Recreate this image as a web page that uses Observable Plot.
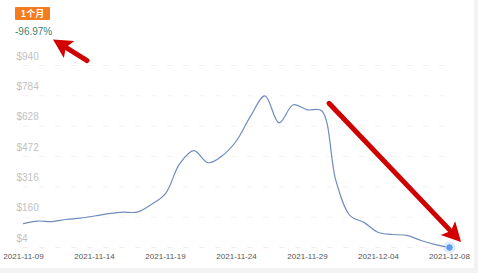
<!DOCTYPE html>
<html>
<head>
<meta charset="utf-8">
<script src="https://cdn.jsdelivr.net/npm/d3@7"></script>
<script src="https://cdn.jsdelivr.net/npm/@observablehq/plot@0.6"></script>
<style>
  html, body { margin: 0; padding: 0; background: #f3f3f3; }
  #wrap { position: relative; width: 474px; height: 268px; background: #ffffff; overflow: hidden; }
  #badge { position: absolute; left: 15px; top: 7px; width: 35px; height: 13px; background: #f47c20;
           color: #fff; font: bold 9px "Noto Sans CJK SC", sans-serif; line-height: 13px; text-align: center; border-radius: 1px; }
  #pct { position: absolute; left: 15px; top: 26px; color: #3f7f6e; font: 10px "Liberation Sans", sans-serif; }
  #chart { position: absolute; left: 0; top: 0; }
</style>
</head>
<body>
<div id="wrap">
  <div id="chart"></div>
  <div id="badge">1个月</div>
  <div id="pct">-96.97%</div>
</div>
<script>
// daily price index (day 0 = 2021-11-09)
const days = d3.range(31);
const prices = [127, 140, 137, 148, 155, 166, 178, 186, 186, 225,
                281, 435, 502, 440, 476, 553, 681, 784, 645, 738,
                712, 707, 348, 168, 132, 81, 71, 66, 40, 19, 3.85];
const tickDays = [0, 5, 10, 15, 20, 25, 30];
const tickLabels = ["2021-11-09", "2021-11-14", "2021-11-19", "2021-11-24", "2021-11-29", "2021-12-04", "2021-12-08"];
const yTicks = [4, 160, 316, 472, 628, 784, 940];
// annotation arrows (data space): tail -> tip
const arrowX1 = [4.51, 21.55];
const arrowY1 = [963, 743];
const arrowX2 = [2.11, 30.85];
const arrowY2 = [1071, 30];

const data = days.map((d, i) => ({day: d, price: prices[i]}));
const last = data[data.length - 1];
const arrows = arrowX1.map((x, i) => ({x1: x, y1: arrowY1[i], x2: arrowX2[i], y2: arrowY2[i]}));

// custom filled-head arrows drawn through the plot's scales
function arrowMark(index, scales) {
  const g = d3.create("svg:g");
  for (const a of arrows) {
    const tx = scales.x(a.x1), ty = scales.y(a.y1);
    const hx = scales.x(a.x2), hy = scales.y(a.y2);
    const dx = hx - tx, dy = hy - ty, L = Math.hypot(dx, dy);
    const ux = dx / L, uy = dy / L, px = -uy, py = ux;
    const hl = 19, hw = 10;
    const bx = hx - ux * hl, by = hy - uy * hl;
    g.append("line").attr("x1", tx).attr("y1", ty).attr("x2", bx + ux * 2).attr("y2", by + uy * 2)
      .attr("stroke", "#cf0000").attr("stroke-width", 5).attr("stroke-linecap", "round");
    g.append("path")
      .attr("d", `M${hx},${hy}L${bx + px * hw},${by + py * hw}L${bx + ux * 4},${by + uy * 4}L${bx - px * hw},${by - py * hw}Z`)
      .attr("fill", "#d40000");
  }
  return g.node();
}

const chart = Plot.plot({
  width: 474,
  height: 268,
  marginLeft: 23,
  marginRight: 25,
  marginTop: 65,
  marginBottom: 21,
  style: {background: "transparent", fontFamily: "Liberation Sans, sans-serif", overflow: "visible"},
  x: {domain: [0, 30]},
  y: {domain: [4, 940]},
  marks: [
    Plot.ruleY(yTicks, {stroke: "#f8efef", strokeDasharray: "6,10", strokeWidth: 1}),
    Plot.axisY({ticks: yTicks, tickFormat: d => "$" + d, tickSize: 0, tickPadding: 7,
                textAnchor: "start", dy: -9, fontSize: 10, color: "#c2c2c2", label: null}),
    Plot.axisX({ticks: tickDays, tickFormat: (d, i) => tickLabels[i], tickSize: 0, tickPadding: 6,
                fontSize: 8, color: "#555", label: null}),
    Plot.line(data, {x: "day", y: "price", curve: "catmull-rom", stroke: "#6f8dbf", strokeWidth: 1.2}),
    Plot.dot([last], {x: "day", y: "price", r: 6, fill: "#5b9cf0", fillOpacity: 0.2, stroke: null}),
    Plot.dot([last], {x: "day", y: "price", r: 3.8, fill: "#5b9cf0", stroke: "#ffffff", strokeWidth: 0.8}),
    arrowMark
  ]
});
document.getElementById("chart").appendChild(chart);
</script>
</body>
</html>
